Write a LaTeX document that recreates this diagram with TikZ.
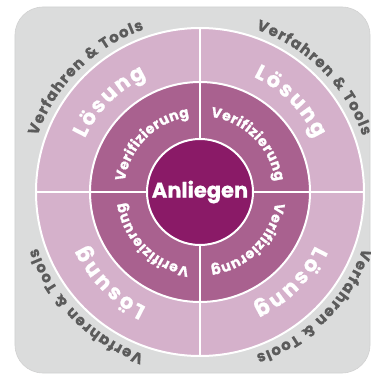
\documentclass[tikz,border=0pt]{standalone}
\usepackage{fontspec}
\setmainfont{Poppins}
\newfontfamily\heavy{Poppins}[BoldFeatures={FakeBold=0.9}]
\usepackage{tikz}
\usetikzlibrary{decorations.text}
\definecolor{greybg}{HTML}{DBDCDC}
\definecolor{loesung}{HTML}{D5B1CB}
\definecolor{verif}{HTML}{A9618F}
\definecolor{anliegen}{HTML}{8A1A67}
\definecolor{tooltext}{HTML}{5B5B5B}
\newcommand{\verifmt}{\fontsize{14}{14}\selectfont\heavy\bfseries\color{white}}
\newcommand{\loesfmt}{\fontsize{21}{21}\selectfont\heavy\bfseries\color{white}}
\newcommand{\toolfmt}{\fontsize{15}{15}\selectfont\heavy\bfseries\color{tooltext}}
\tikzstyle{backdrop} = [rounded corners=28pt, fill=greybg, draw=black!18, line width=0.6pt]
\tikzstyle{ring} = [draw=white, line width=2pt]
\tikzstyle{divider} = [draw=white, line width=2.4pt]
\tikzstyle{core} = [circle, minimum size=106pt, inner sep=0pt, draw=white, line width=2pt, fill=anliegen, text=white, font=\fontsize{21}{21}\selectfont\heavy\bfseries]
\tikzstyle{arclabel} = [decorate, decoration={text along path, text align={fit to path}}]

\begin{document}
\begin{tikzpicture}
		\useasboundingbox (-200pt,-183pt) rectangle (171pt,192pt);
		\path [backdrop] (-185pt,-181pt) rectangle (170pt,185pt);
		\path [ring, fill=loesung] (0,0) circle (164pt);
		\path [ring, fill=verif] (0,0) circle (110pt);
		\draw [divider] (-164pt,0) -- (164pt,0);
		\draw [divider] (0,-164pt) -- (0,164pt);
		\node (anliegen) [core] at (0,0) {Anliegen};
		
		\path [arclabel, decoration={text={|\verifmt|Verifizierung}}] (172:76pt) arc [start angle=172, end angle=98, radius=76pt];
		\path [arclabel, decoration={text={|\verifmt|Verifizierung}}] (82:76pt) arc [start angle=82, end angle=8, radius=76pt];
		\path [arclabel, decoration={text={|\verifmt|Verifizierung}}] (-8:76pt) arc [start angle=-8, end angle=-82, radius=76pt];
		\path [arclabel, decoration={text={|\verifmt|Verifizierung}}] (-98:76pt) arc [start angle=-98, end angle=-172, radius=76pt];
		
		\path [arclabel, decoration={text={|\loesfmt|Lösung}}] (155:127pt) arc [start angle=155, end angle=115, radius=127pt];
		\path [arclabel, decoration={text={|\loesfmt|Lösung}}] (65:127pt) arc [start angle=65, end angle=25, radius=127pt];
		\path [arclabel, decoration={text={|\loesfmt|Lösung}}] (-25:127pt) arc [start angle=-25, end angle=-65, radius=127pt];
		\path [arclabel, decoration={text={|\loesfmt|Lösung}}] (-115:127pt) arc [start angle=-115, end angle=-155, radius=127pt];
		
		\path [arclabel, decoration={text={|\toolfmt|Verfahren {\&} Tools}}] (161:172pt) arc [start angle=161, end angle=109, radius=172pt];
		\path [arclabel, decoration={text={|\toolfmt|Verfahren {\&} Tools}}] (71:172pt) arc [start angle=71, end angle=19, radius=172pt];
		\path [arclabel, decoration={text={|\toolfmt|Verfahren {\&} Tools}}] (-19:172pt) arc [start angle=-19, end angle=-71, radius=172pt];
		\path [arclabel, decoration={text={|\toolfmt|Verfahren {\&} Tools}}] (-109:172pt) arc [start angle=-109, end angle=-161, radius=172pt];
	\end{tikzpicture}
\end{document}
